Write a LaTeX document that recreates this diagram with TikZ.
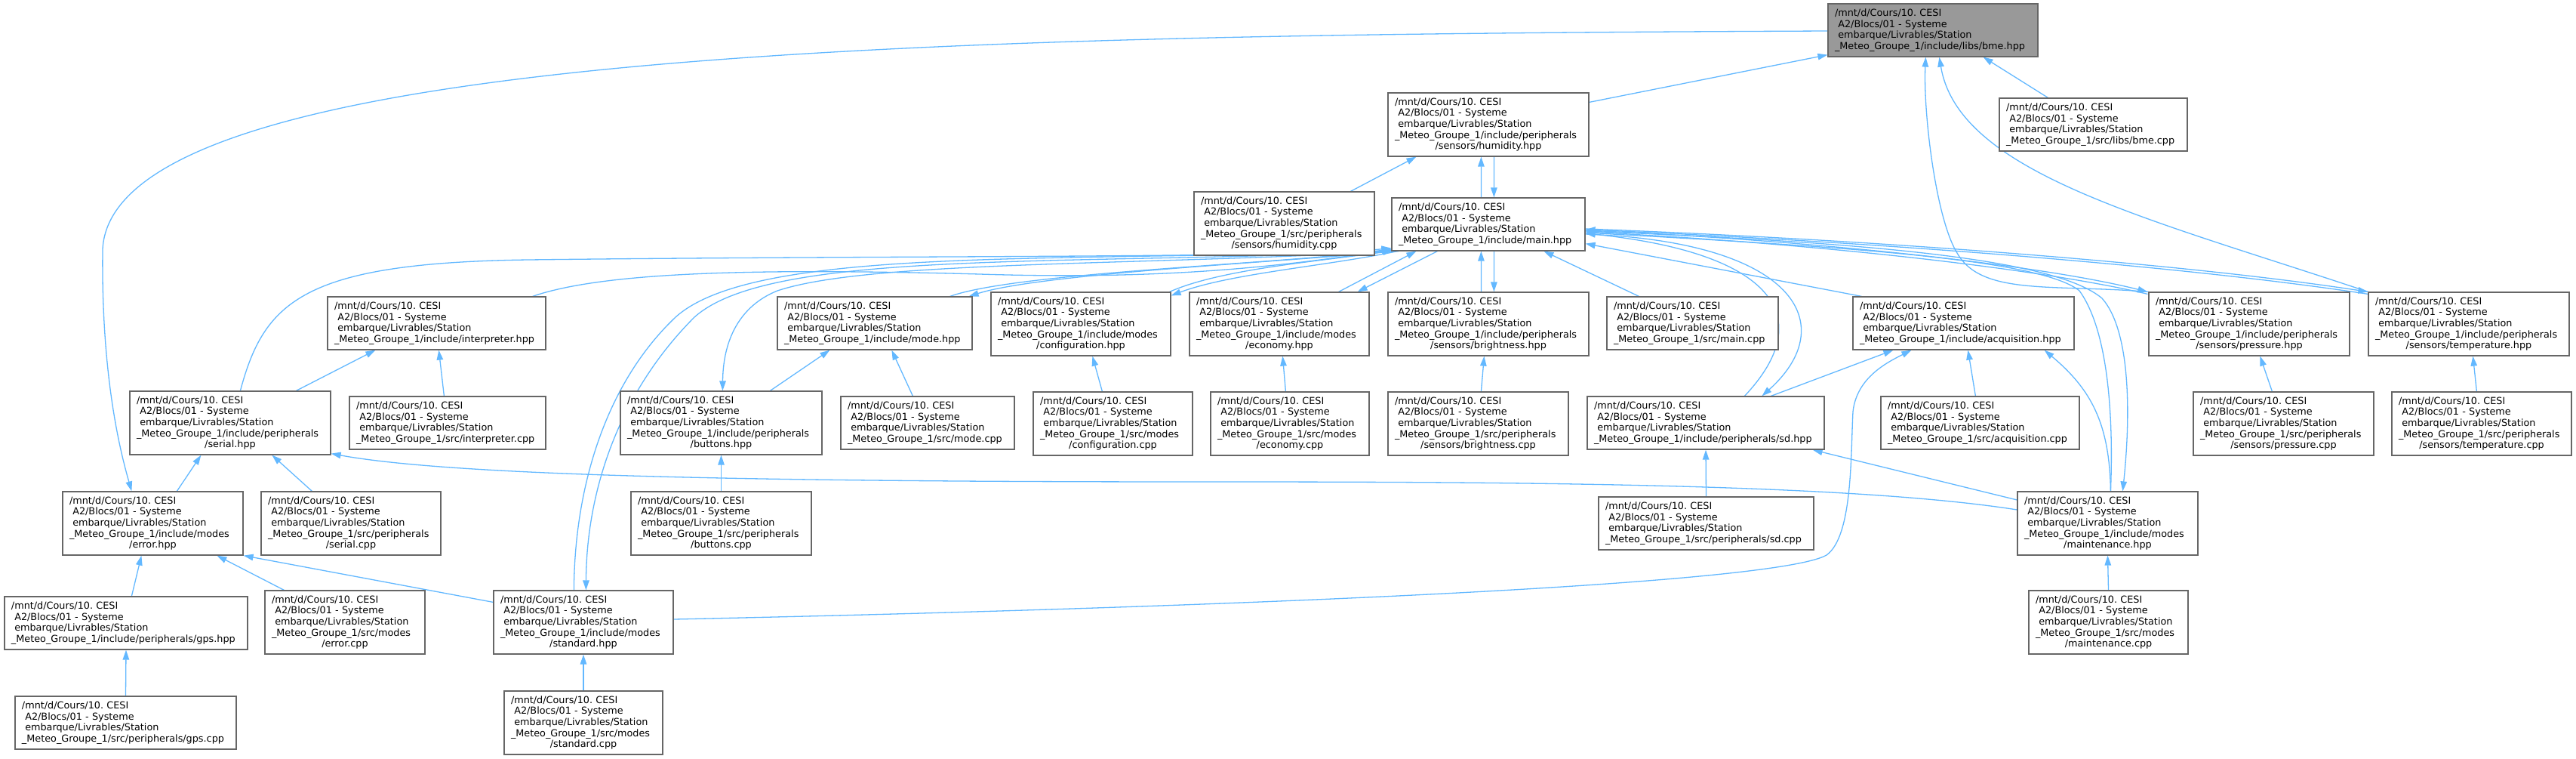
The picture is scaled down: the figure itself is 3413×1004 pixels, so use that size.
\documentclass[tikz,border=0pt]{standalone}
\usepackage{fontspec}
\setmainfont{DejaVu Sans}
\usetikzlibrary{arrows.meta,calc}
\definecolor{edgeblue}{HTML}{63B8FF}
\definecolor{boxgray}{HTML}{666666}
\definecolor{rootfill}{HTML}{999999}
\pgfdeclarelayer{bg}
\pgfsetlayers{bg,main}
\frenchspacing
\newcommand{\fhead}{/mnt/d/Cours/10.\ CESI\\\ A2/Blocs/01 - Systeme\\\ embarque/Livrables/Station\\}
\newcommand{\fcenter}[1]{\\\makebox[\linewidth]{#1}}
\tikzset{
  fnode/.style={draw=boxgray, line width=1.2bp, fill=white, rectangle, align=left,
    inner xsep=9bp, inner ysep=2bp, font=\fontsize{12.8bp}{14.6bp}\selectfont\frenchspacing, anchor=center},
  rootnode/.style={fnode, fill=rootfill},
  dep/.style={draw=edgeblue, line width=1.3bp, -{Triangle[length=13bp,width=8.5bp]}},
}
\begin{document}
\begin{tikzpicture}[x=1bp,y=-1bp]
\useasboundingbox (0,0) rectangle (3413,1004);
% ---------- nodes ----------
\node[rootnode, text width=260bp, minimum height=70bp] (bme) at (2561,40) {\fhead\_Meteo\_Groupe\_1/include/libs/bme.hpp};
\node[fnode, text width=248bp, minimum height=84bp] (hum) at (1972,165) {\fhead\_Meteo\_Groupe\_1/include/peripherals\fcenter{/sensors/humidity.hpp}};
\node[fnode, text width=231bp, minimum height=70bp] (bmecpp) at (2773.5,165) {\fhead\_Meteo\_Groupe\_1/src/libs/bme.cpp};
\node[fnode, text width=221bp, minimum height=84bp] (humcpp) at (1701.5,296) {\fhead\_Meteo\_Groupe\_1/src/peripherals\fcenter{/sensors/humidity.cpp}};
\node[fnode, text width=238bp, minimum height=70bp] (main) at (1972,297) {\fhead\_Meteo\_Groupe\_1/include/main.hpp};
\node[fnode, text width=271bp, minimum height=70bp] (interp) at (578.5,428) {\fhead\_Meteo\_Groupe\_1/include/interpreter.hpp};
\node[fnode, text width=240bp, minimum height=70bp] (mode) at (1159,428) {\fhead\_Meteo\_Groupe\_1/include/mode.hpp};
\node[fnode, text width=220bp, minimum height=84bp] (conf) at (1432,429) {\fhead\_Meteo\_Groupe\_1/include/modes\fcenter{/configuration.hpp}};
\node[fnode, text width=220bp, minimum height=84bp] (eco) at (1695,429) {\fhead\_Meteo\_Groupe\_1/include/modes\fcenter{/economy.hpp}};
\node[fnode, text width=248bp, minimum height=84bp] (bri) at (1972,429) {\fhead\_Meteo\_Groupe\_1/include/peripherals\fcenter{/sensors/brightness.hpp}};
\node[fnode, text width=209bp, minimum height=70bp] (maincpp) at (2242.5,428) {\fhead\_Meteo\_Groupe\_1/src/main.cpp};
\node[fnode, text width=275bp, minimum height=70bp] (acq) at (2601.5,428) {\fhead\_Meteo\_Groupe\_1/include/acquisition.hpp};
\node[fnode, text width=248bp, minimum height=84bp] (pres) at (2980,429) {\fhead\_Meteo\_Groupe\_1/include/peripherals\fcenter{/sensors/pressure.hpp}};
\node[fnode, text width=248bp, minimum height=84bp] (temp) at (3271,429) {\fhead\_Meteo\_Groupe\_1/include/peripherals\fcenter{/sensors/temperature.hpp}};
\node[fnode, text width=248bp, minimum height=84bp] (serial) at (305,560) {\fhead\_Meteo\_Groupe\_1/include/peripherals\fcenter{/serial.hpp}};
\node[fnode, text width=242bp, minimum height=70bp] (interpcpp) at (593,560) {\fhead\_Meteo\_Groupe\_1/src/interpreter.cpp};
\node[fnode, text width=249bp, minimum height=84bp] (buttons) at (955.5,560) {\fhead\_Meteo\_Groupe\_1/include/peripherals\fcenter{/buttons.hpp}};
\node[fnode, text width=212bp, minimum height=70bp] (modecpp) at (1229,560) {\fhead\_Meteo\_Groupe\_1/src/mode.cpp};
\node[fnode, text width=193bp, minimum height=84bp] (confcpp) at (1474.5,561) {\fhead\_Meteo\_Groupe\_1/src/modes\fcenter{/configuration.cpp}};
\node[fnode, text width=192bp, minimum height=84bp] (ecocpp) at (1709,561) {\fhead\_Meteo\_Groupe\_1/src/modes\fcenter{/economy.cpp}};
\node[fnode, text width=221bp, minimum height=84bp] (bricpp) at (1958.5,561) {\fhead\_Meteo\_Groupe\_1/src/peripherals\fcenter{/sensors/brightness.cpp}};
\node[fnode, text width=296bp, minimum height=70bp] (sd) at (2260,560) {\fhead\_Meteo\_Groupe\_1/include/peripherals/sd.hpp};
\node[fnode, text width=245bp, minimum height=70bp] (acqcpp) at (2623.5,560) {\fhead\_Meteo\_Groupe\_1/src/acquisition.cpp};
\node[fnode, text width=221bp, minimum height=84bp] (prescpp) at (3025.5,561) {\fhead\_Meteo\_Groupe\_1/src/peripherals\fcenter{/sensors/pressure.cpp}};
\node[fnode, text width=220bp, minimum height=84bp] (tempcpp) at (3288,561) {\fhead\_Meteo\_Groupe\_1/src/peripherals\fcenter{/sensors/temperature.cpp}};
\node[fnode, text width=221bp, minimum height=84bp] (error) at (202.5,693) {\fhead\_Meteo\_Groupe\_1/include/modes\fcenter{/error.hpp}};
\node[fnode, text width=220bp, minimum height=84bp] (serialcpp) at (465,693) {\fhead\_Meteo\_Groupe\_1/src/peripherals\fcenter{/serial.cpp}};
\node[fnode, text width=221bp, minimum height=84bp] (buttonscpp) at (955.5,693) {\fhead\_Meteo\_Groupe\_1/src/peripherals\fcenter{/buttons.cpp}};
\node[fnode, text width=267bp, minimum height=70bp] (sdcpp) at (2260.5,693) {\fhead\_Meteo\_Groupe\_1/src/peripherals/sd.cpp};
\node[fnode, text width=221bp, minimum height=84bp] (maint) at (2792.5,693) {\fhead\_Meteo\_Groupe\_1/include/modes\fcenter{/maintenance.hpp}};
\node[fnode, text width=304bp, minimum height=70bp] (gps) at (167,825) {\fhead\_Meteo\_Groupe\_1/include/peripherals/gps.hpp};
\node[fnode, text width=194bp, minimum height=84bp] (errorcpp) at (457,824) {\fhead\_Meteo\_Groupe\_1/src/modes\fcenter{/error.cpp}};
\node[fnode, text width=220bp, minimum height=84bp] (standard) at (773,824) {\fhead\_Meteo\_Groupe\_1/include/modes\fcenter{/standard.hpp}};
\node[fnode, text width=193bp, minimum height=84bp] (maintcpp) at (2793.5,824) {\fhead\_Meteo\_Groupe\_1/src/modes\fcenter{/maintenance.cpp}};
\node[fnode, text width=275bp, minimum height=70bp] (gpscpp) at (166.5,957) {\fhead\_Meteo\_Groupe\_1/src/peripherals/gps.cpp};
\node[fnode, text width=192bp, minimum height=84bp] (standardcpp) at (773,957) {\fhead\_Meteo\_Groupe\_1/src/modes\fcenter{/standard.cpp}};
% ---------- edges ----------
\begin{pgfonlayer}{bg}
% to bme.hpp
\draw[dep] ($(hum.north east)+(0,13)$) -- ($(bme.south west)+(0,-3)$);
\draw[dep] ($(bmecpp.north west)+(65,0)$) -- ($(bme.south east)+(-73,0)$);
\draw[dep] ($(bme.west)+(0,1)$) .. controls (1300,46) and (150,60) .. (136,330)
   .. controls (134,500) and (160,600) .. ($(error.north west)+(92,0)$);
\draw[dep] (pres.north west) .. controls (2720,376) and (2625,392) .. (2593,335)
   .. controls (2565,290) and (2548,150) .. ($(bme.south west)+(130,0)$);
\draw[dep] (temp.north west) .. controls (2850,290) and (2595,230) .. ($(bme.south west)+(148,0)$);
% main <-> humidity
\draw[dep] ($(main.north west)+(119,0)$) -- ($(hum.south west)+(124,0)$);
\draw[dep] ($(hum.south west)+(141,0)$) -- ($(main.north west)+(136,0)$);
\draw[dep] ($(humcpp.north west)+(208,0)$) -- ($(hum.south west)+(38,0)$);
% into main
\draw[dep] ($(maincpp.north west)+(43,0)$) -- ($(main.south west)+(202,0)$);
\draw[dep] ($(acq.north west)+(12,0)$) -- ($(main.south east)+(0,-10)$);
\draw[dep] ($(bri.north west)+(124,0)$) -- ($(main.south west)+(119,0)$);
\draw[dep] ($(main.south west)+(136,0)$) -- ($(bri.north west)+(141,0)$);
\draw[dep] ($(bricpp.north west)+(124,0)$) -- ($(bri.south west)+(128,0)$);
\draw[dep] ($(eco.north east)+(-41,0)$) -- ($(main.south west)+(33,0)$);
\draw[dep] ($(main.south west)+(61,0)$) -- ($(eco.north east)+(-16,0)$);
\draw[dep] ($(conf.north east)+(-2,0)$) .. controls (1620,355) and (1760,345) .. ($(main.south west)+(2,-1)$);
\draw[dep] ($(main.south west)+(8,0)$) .. controls (1760,352) and (1630,362) .. ($(conf.north east)+(0,5)$);
\draw[dep] ($(mode.north east)+(-30,0)$) .. controls (1350,360) and (1700,350) .. ($(main.south west)+(0,-3)$);
\draw[dep] ($(main.south west)+(4,0)$) .. controls (1700,347) and (1380,362) .. ($(mode.north east)+(-5,0)$);
\draw[dep] ($(main.south west)+(6,0)$) .. controls (1500,352) and (1150,345) .. (1030,385)
   .. controls (980,405) and (958,450) .. ($(buttons.north west)+(136,0)$);
\draw[dep] ($(main.south west)+(10,0)$) .. controls (1400,352) and (1020,330) .. (920,420)
   .. controls (820,520) and (777,650) .. ($(standard.north west)+(123,0)$);
\draw[dep] ($(standard.north west)+(107,0)$) .. controls (761,650) and (800,510) .. (895,420)
   .. controls (1000,325) and (1400,348) .. ($(main.south west)+(3,-1)$);
\draw[dep] ($(interp.north east)+(-18,0)$) .. controls (800,360) and (1000,355) .. (1298,363)
   .. controls (1550,371) and (1700,352) .. ($(main.south west)+(1,-2)$);
\draw[dep] ($(serial.north west)+(147,0)$) .. controls (350,400) and (400,348) .. (700,344)
   .. controls (1200,338) and (1700,342) .. ($(main.south west)+(0,-4)$);
% main <-> right side
\draw[dep] ($(main.east)+(0,13)$) .. controls (2380,320) and (2440,430) .. ($(sd.north west)+(232,0)$);
\draw[dep] ($(sd.north west)+(209,0)$) .. controls (2410,420) and (2350,335) .. ($(main.east)+(0,12)$);
\draw[dep] ($(main.east)+(0,9)$) .. controls (2450,320) and (2720,340) .. (2785,395)
   .. controls (2825,440) and (2822,560) .. ($(maint.north west)+(140,0)$);
\draw[dep] ($(maint.north west)+(124,0)$) .. controls (2800,560) and (2795,440) .. (2755,385)
   .. controls (2700,340) and (2400,325) .. ($(main.east)+(0,11)$);
\draw[dep] ($(main.east)+(0,8)$) .. controls (2400,318) and (2700,350) .. ($(pres.north west)+(-1,0)$);
\draw[dep] ($(pres.north west)+(-1,3)$) .. controls (2700,355) and (2400,322) .. ($(main.east)+(0,10)$);
\draw[dep] ($(main.east)+(0,6)$) .. controls (2500,318) and (2900,350) .. (temp.north west);
\draw[dep] ($(temp.north west)+(0,3)$) .. controls (2900,353) and (2500,321) .. ($(main.east)+(0,7)$);
% left part
\draw[dep] ($(serial.north west)+(221,0)$) -- ($(interp.south west)+(64,0)$);
\draw[dep] ($(interpcpp.north west)+(126,0)$) -- ($(interp.south west)+(148,0)$);
\draw[dep] ($(error.north west)+(152,0)$) -- ($(serial.south west)+(95,0)$);
\draw[dep] ($(serialcpp.north west)+(68,0)$) -- ($(serial.south west)+(189,0)$);
\draw[dep] ($(maint.west)+(0,-18)$) .. controls (2450,640) and (2000,638) .. (1600,638)
   .. controls (1000,638) and (600,630) .. ($(serial.south east)+(0,-2)$);
\draw[dep] ($(buttons.north west)+(199,0)$) -- ($(mode.south west)+(70,0)$);
\draw[dep] ($(modecpp.north west)+(96,0)$) -- ($(mode.south west)+(152,0)$);
\draw[dep] (buttonscpp.north) -- (buttons.south);
\draw[dep] ($(confcpp.north west)+(92,0)$) -- ($(conf.south west)+(135,0)$);
\draw[dep] ($(ecocpp.north west)+(100,0)$) -- ($(eco.south west)+(124,0)$);
% acquisition and right
\draw[dep] ($(sd.north west)+(244,0)$) -- ($(acq.south west)+(54,0)$);
\draw[dep] ($(acqcpp.north west)+(126,0)$) -- ($(acq.south west)+(153,0)$);
\draw[dep] ($(standard.east)+(0,-4)$) .. controls (1600,805) and (2350,775) .. (2420,735)
   .. controls (2455,710) and (2452,600) .. (2455,545)
   .. controls (2460,500) and (2500,480) .. ($(acq.south west)+(78,0)$);
\draw[dep] ($(maint.north west)+(124,0)$) .. controls (2795,560) and (2770,515) .. ($(acq.south east)+(-40,0)$);
\draw[dep] ($(maint.west)+(0,-31)$) -- ($(sd.south east)+(-16,0)$);
\draw[dep] (sdcpp.north) -- (sd.south);
\draw[dep] ($(prescpp.north west)+(105,0)$) -- ($(pres.south west)+(148,0)$);
\draw[dep] ($(tempcpp.north west)+(113,0)$) -- ($(temp.south west)+(139,0)$);
\draw[dep] (maintcpp.north) -- (maint.south);
% bottom left
\draw[dep] ($(gps.north west)+(169,0)$) -- ($(error.south west)+(105,0)$);
\draw[dep] ($(errorcpp.north west)+(26,0)$) -- ($(error.south west)+(205,0)$);
\draw[dep] ($(standard.north west)+(0,16)$) -- (error.south east);
\draw[dep] (gpscpp.north) -- (gps.south);
\draw[dep] (standardcpp.north) -- (standard.south);
\end{pgfonlayer}
\end{tikzpicture}
\end{document}
